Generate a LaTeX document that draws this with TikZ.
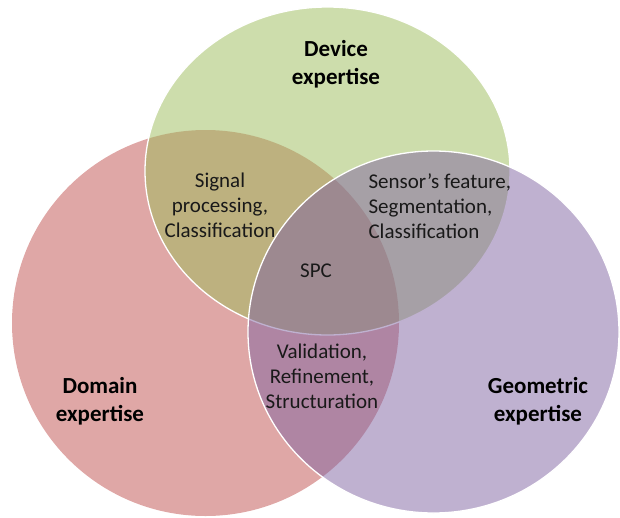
\documentclass[tikz,border=0pt]{standalone}
\usepackage{fontspec}
\setmainfont{Carlito}
\definecolor{domaincol}{HTML}{C0504D}
\definecolor{devicecol}{HTML}{9BBB59}
\definecolor{geomcol}{HTML}{8064A2}
\tikzset{
  expert/.style={font=\fontsize{23}{28}\selectfont\bfseries, align=center, text=black},
  overlap/.style={font=\fontsize{21}{25}\selectfont, align=center, text=black!90},
}
\newcommand{\EXPERTISE}[5]{
  \draw[#5, fill=#4, fill opacity=0.5] #1 ellipse[x radius=#2, y radius=#3];
}

\begin{document}
\begin{tikzpicture}[x=1pt, y=-1pt]
  \useasboundingbox (0,0) rectangle (620,517);
  \EXPERTISE{(205.5,323)}{193.5}{193}{domaincol}{draw=none}
  \EXPERTISE{(327.5,171)}{182.5}{164}{devicecol}{white, line width=1.3pt}
  \EXPERTISE{(433.5,332)}{185.5}{181}{geomcol}{white, line width=1.3pt}

  \node[expert] (device) at (336,64) {Device\\expertise};
  \node[expert] (domain) at (100,401) {Domain\\expertise};
  \node[expert] (geometric) at (538,401) {Geometric\\expertise};

  \node[overlap] (signal) at (220,205) {Signal\\processing,\\Classification};
  \node[overlap, align=left, anchor=west] (sensor) at (365,206) {Sensor’s feature,\\Segmentation,\\Classification};
  \node[overlap] (spc) at (316,271) {SPC};
  \node[overlap] (valid) at (322,376) {Validation,\\Refinement,\\Structuration};
\end{tikzpicture}
\end{document}
